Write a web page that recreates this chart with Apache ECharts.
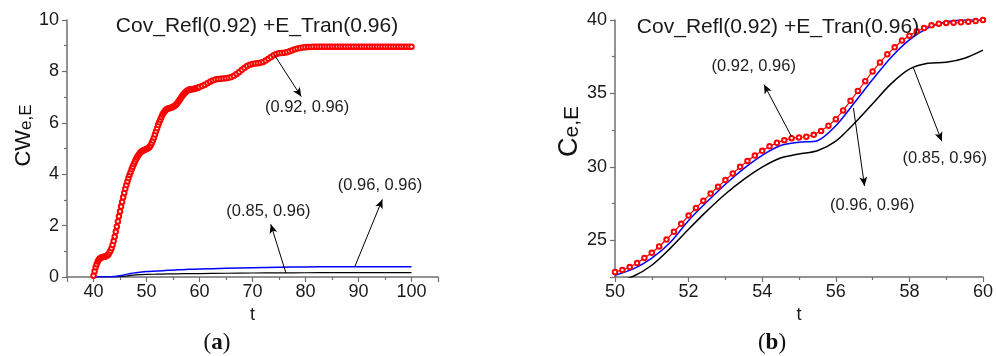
<!DOCTYPE html>
<html>
<head>
<meta charset="utf-8">
<script src="https://cdn.jsdelivr.net/npm/echarts@6/dist/echarts.min.js"></script>
<style>
  html, body { margin: 0; padding: 0; background: #ffffff; }
  #chart { width: 996px; height: 356px; }
</style>
</head>
<body>
<div id="chart"></div>
<script>
// ---- Panel (a): cumulative CW_e,E over t ----
const tRedA = [
  40.0, 40.2, 40.4, 40.6, 40.8, 41.0, 41.2, 41.4, 41.6, 41.8,
  42.0, 42.2, 42.4, 42.6, 42.8, 43.0, 43.2, 43.4, 43.6, 43.8,
  44.0, 44.2, 44.4, 44.6, 44.8, 45.0, 45.2, 45.4, 45.6, 45.8,
  46.0, 46.2, 46.4, 46.6, 46.8, 47.0, 47.2, 47.4, 47.6, 47.8,
  48.0, 48.2, 48.4, 48.6, 48.8, 49.0, 49.2, 49.4, 49.6, 49.8,
  50.0, 50.2, 50.4, 50.6, 50.8, 51.0, 51.2, 51.4, 51.6, 51.8,
  52.0, 52.2, 52.4, 52.6, 52.8, 53.0, 53.2, 53.4, 53.6, 53.8,
  54.0, 54.2, 54.4, 54.6, 54.8, 55.0, 55.2, 55.4, 55.6, 55.8,
  56.0, 56.2, 56.4, 56.6, 56.8, 57.0, 57.2, 57.4, 57.6, 57.8,
  58.0, 58.2, 58.4, 58.6, 58.8, 59.0, 59.2, 59.4, 59.6, 59.8,
  60.0,
  60.5, 61.0, 61.5, 62.0, 62.5, 63.0, 63.5, 64.0, 64.5, 65.0,
  65.5, 66.0, 66.5, 67.0, 67.5, 68.0, 68.5, 69.0, 69.5, 70.0,
  70.5, 71.0, 71.5, 72.0, 72.5, 73.0, 73.5, 74.0, 74.5, 75.0,
  75.5, 76.0, 76.5, 77.0, 77.5, 78.0, 78.5, 79.0, 79.5, 80.0,
  80.5, 81.0, 81.5, 82.0, 82.5, 83.0, 83.5, 84.0, 84.5, 85.0,
  85.5, 86.0, 86.5, 87.0, 87.5, 88.0, 88.5, 89.0, 89.5, 90.0,
  90.5, 91.0, 91.5, 92.0, 92.5, 93.0, 93.5, 94.0, 94.5, 95.0,
  95.5, 96.0, 96.5, 97.0, 97.5, 98.0, 98.5, 99.0, 99.5, 100.0
];
const cwRed = [
  0.05, 0.22, 0.38, 0.50, 0.60, 0.67, 0.72, 0.75, 0.77, 0.78,
  0.79, 0.80, 0.82, 0.84, 0.88, 0.94, 1.02, 1.12, 1.25, 1.40,
  1.57, 1.76, 1.96, 2.16, 2.36, 2.55, 2.74, 2.92, 3.10, 3.27,
  3.43, 3.58, 3.72, 3.85, 3.97, 4.08, 4.19, 4.29, 4.39, 4.48,
  4.57, 4.65, 4.72, 4.78, 4.83, 4.87, 4.90, 4.92, 4.94, 4.96,
  4.98, 5.00, 5.03, 5.07, 5.13, 5.21, 5.31, 5.42, 5.54, 5.67,
  5.79, 5.91, 6.02, 6.12, 6.22, 6.31, 6.38, 6.44, 6.49, 6.53,
  6.55, 6.57, 6.58, 6.59, 6.60, 6.62, 6.64, 6.67, 6.71, 6.76,
  6.82, 6.88, 6.94, 7.00, 7.06, 7.11, 7.16, 7.20, 7.24, 7.27,
  7.29, 7.30, 7.31, 7.31, 7.32, 7.32, 7.33, 7.34, 7.35, 7.37,
  7.39,
  7.43, 7.48, 7.54, 7.60, 7.65, 7.68, 7.70, 7.71, 7.72, 7.73,
  7.75, 7.78, 7.83, 7.90, 7.98, 8.06, 8.14, 8.21, 8.26, 8.29,
  8.31, 8.32, 8.34, 8.37, 8.42, 8.49, 8.56, 8.63, 8.68, 8.71,
  8.72, 8.73, 8.75, 8.78, 8.82, 8.86, 8.89, 8.91, 8.93, 8.94,
  8.95, 8.95, 8.96, 8.96, 8.96, 8.96, 8.96, 8.96, 8.96, 8.96,
  8.96, 8.96, 8.96, 8.96, 8.96, 8.96, 8.96, 8.96, 8.96, 8.96,
  8.96, 8.96, 8.96, 8.96, 8.96, 8.96, 8.96, 8.96, 8.96, 8.96,
  8.96, 8.96, 8.96, 8.96, 8.96, 8.96, 8.96, 8.96, 8.96, 8.96
];
const tLowA = [40, 42, 44, 45, 46, 47, 48, 50, 52, 54, 56, 58, 60, 65, 70, 75, 80, 85, 90, 95, 100];
const cwBlue = [0, 0.005, 0.02, 0.05, 0.09, 0.14, 0.17, 0.21, 0.23, 0.26, 0.28, 0.30, 0.31, 0.34, 0.36, 0.38, 0.39, 0.40, 0.40, 0.40, 0.40];
const cwBlack = [0, 0, 0.005, 0.01, 0.03, 0.06, 0.08, 0.10, 0.11, 0.12, 0.125, 0.13, 0.135, 0.145, 0.155, 0.16, 0.165, 0.17, 0.17, 0.17, 0.17];

// ---- Panel (b): C_e,E over 50 <= t <= 60 ----
const tRedB = [
  50.0, 50.2, 50.4, 50.6, 50.8, 51.0, 51.2, 51.4, 51.6, 51.8,
  52.0, 52.2, 52.4, 52.6, 52.8, 53.0, 53.2, 53.4, 53.6, 53.8,
  54.0, 54.2, 54.4, 54.6, 54.8, 55.0, 55.2, 55.4, 55.6, 55.8,
  56.0, 56.2, 56.4, 56.6, 56.8, 57.0, 57.2, 57.4, 57.6, 57.8,
  58.0, 58.2, 58.4, 58.6, 58.8, 59.0, 59.2, 59.4, 59.6, 59.8,
  60.0
];
const cRed = [
  22.84, 22.98, 23.18, 23.45, 23.80, 24.15, 24.58, 25.05, 25.58, 26.12,
  26.68, 27.20, 27.70, 28.18, 28.65, 29.10, 29.55, 30.00, 30.40, 30.77,
  31.09, 31.40, 31.64, 31.82, 31.95, 32.00, 32.05, 32.18, 32.45, 32.80,
  33.25, 33.84, 34.50, 35.17, 35.83, 36.50, 37.11, 37.66, 38.14, 38.60,
  38.93, 39.23, 39.45, 39.64, 39.75, 39.80, 39.82, 39.84, 39.88, 39.93,
  40.00
];
const tLineB = [50.0, 50.5, 51.0, 51.5, 52.0, 52.5, 53.0, 53.5, 54.0, 54.5, 55.0, 55.5, 56.0, 56.5, 57.0, 57.5, 58.0, 58.5, 59.0, 59.5, 60.0];
const cBlue = [22.62, 23.05, 23.78, 24.85, 26.35, 27.62, 28.82, 29.88, 30.78, 31.45, 31.68, 31.78, 32.80, 34.35, 35.95, 37.45, 38.65, 39.45, 39.88, 40.00, 40.00];
const cBlack = [22.15, 22.55, 23.30, 24.45, 25.75, 27.00, 28.15, 29.15, 29.98, 30.60, 30.88, 31.10, 31.75, 32.95, 34.30, 35.65, 36.65, 37.05, 37.12, 37.40, 37.95];

// axis ranges and tick steps
const xRangeA = [35, 105], xStepA = 10;
const yRangeA = [0, 10], yStepA = 2;
const xRangeB = [50, 60], xStepB = 2;
const yRangeB = [22.5, 40], yStepB = 5;

const panelTitle = 'Cov_Refl(0.92) +E_Tran(0.96)';

// arrow annotations in data space: [from t, from value, to t, to value, text t, text value, text]
const notesA = [
  [74.2, 8.62, 79.2, 7.02, 80.3, 6.58, '(0.92, 0.96)'],
  [76.3, 0.16, 73.45, 2.05, 73.0, 2.55, '(0.85, 0.96)'],
  [89.3, 0.40, 94.5, 3.02, 94.05, 3.55, '(0.96, 0.96)']
];
const notesB = [
  [54.8, 32.05, 54.05, 35.6, 53.77, 36.86, '(0.92, 0.96)'],
  [56.48, 34.0, 56.78, 28.7, 56.99, 27.4, '(0.96, 0.96)'],
  [58.1, 36.8, 58.88, 31.75, 58.96, 30.6, '(0.85, 0.96)']
];

const FONT = 'Liberation Sans, Arial, sans-serif';
const SERIF = 'Liberation Serif, serif';
const axisGrey = '#6f6f6f';
const zip = (xs, ys) => xs.map((x, i) => [x, ys[i]]);

function axisBase() {
  return {
    type: 'value',
    axisLine: { show: true, onZero: false, lineStyle: { color: axisGrey, width: 1.5 } },
    axisTick: { show: true, inside: false, length: 5, lineStyle: { color: axisGrey, width: 1.2 } },
    minorTick: { show: true, splitNumber: 2, length: 3, lineStyle: { color: axisGrey, width: 1.2 } },
    splitLine: { show: false },
    minorSplitLine: { show: false },
    axisLabel: { color: '#1a1a1a', fontFamily: FONT, fontSize: 18 }
  };
}

function arrows(notes) {
  return {
    silent: true,
    animation: false,
    symbol: ['none', 'arrow'],
    symbolSize: [6, 9],
    lineStyle: { color: '#000', width: 1, type: 'solid' },
    label: { show: false },
    emphasis: { disabled: true },
    data: notes.map(n => [{ coord: [n[0], n[1]] }, { coord: [n[2], n[3]] }])
  };
}
function texts(notes) {
  return {
    silent: true,
    animation: false,
    symbol: 'circle',
    symbolSize: 1,
    itemStyle: { color: 'rgba(0,0,0,0)' },
    label: {
      show: true, position: 'inside', color: '#1e1e1e',
      fontFamily: FONT, fontSize: 16.5,
      formatter: p => p.name
    },
    data: notes.map(n => ({ name: n[6], coord: [n[4], n[5]] }))
  };
}

const xA = Object.assign(axisBase(), {
  gridIndex: 0, min: xRangeA[0], max: xRangeA[1], minInterval: xStepA, maxInterval: xStepA,
  name: 't', nameLocation: 'middle', nameGap: 19,
  nameTextStyle: { color: '#1a1a1a', fontFamily: FONT, fontSize: 18 }
});
xA.axisLabel = Object.assign(xA.axisLabel, { margin: 6, showMinLabel: false, showMaxLabel: false });

const xB = Object.assign(axisBase(), {
  gridIndex: 1, min: xRangeB[0], max: xRangeB[1], interval: xStepB,
  name: 't', nameLocation: 'middle', nameGap: 15,
  nameTextStyle: { color: '#1a1a1a', fontFamily: FONT, fontSize: 18 }
});
xB.axisLabel = Object.assign(xB.axisLabel, { margin: 6 });

const yA = Object.assign(axisBase(), {
  gridIndex: 0, min: yRangeA[0], max: yRangeA[1], interval: yStepA,
  name: '{m|CW}{s|e,E}', nameLocation: 'middle', nameGap: 32,
  nameTextStyle: {
    color: '#111', fontFamily: FONT, padding: [0, 0, 0, 26],
    rich: {
      m: { fontSize: 22, fontFamily: FONT, color: '#111' },
      s: { fontSize: 17, fontFamily: FONT, color: '#111', padding: [5, 0, 0, 0] }
    }
  }
});
yA.axisLabel = Object.assign(yA.axisLabel, { margin: 8 });

const yB = Object.assign(axisBase(), {
  gridIndex: 1, min: yRangeB[0], max: yRangeB[1], minInterval: yStepB, maxInterval: yStepB,
  name: '{m|C}{s|e,E}', nameLocation: 'middle', nameGap: 29,
  nameTextStyle: {
    color: '#111', fontFamily: FONT, padding: [0, 0, 0, 34],
    rich: {
      m: { fontSize: 27, fontFamily: FONT, color: '#111' },
      s: { fontSize: 21, fontFamily: FONT, color: '#111', padding: [6, 0, 0, 0] }
    }
  }
});
yB.axisLabel = Object.assign(yB.axisLabel, { margin: 8, showMinLabel: false });

const option = {
  animation: false,
  backgroundColor: '#ffffff',
  grid: [
    { left: 67, top: 20, width: 371, height: 257 },
    { left: 615, top: 20, width: 372, height: 257 }
  ],
  xAxis: [xA, xB],
  yAxis: [yA, yB],
  series: [
    {
      type: 'line', xAxisIndex: 0, yAxisIndex: 0,
      data: zip(tLowA, cwBlack), showSymbol: false, smooth: 0.3,
      lineStyle: { color: '#000000', width: 1.2 }, z: 2,
      markLine: arrows([notesA[1]]), markPoint: texts([notesA[1]])
    },
    {
      type: 'line', xAxisIndex: 0, yAxisIndex: 0,
      data: zip(tLowA, cwBlue), showSymbol: false, smooth: 0.3,
      lineStyle: { color: '#0000ff', width: 1.5 }, z: 3,
      markLine: arrows([notesA[2]]), markPoint: texts([notesA[2]])
    },
    {
      type: 'line', xAxisIndex: 0, yAxisIndex: 0,
      data: zip(tRedA, cwRed), symbol: 'emptyCircle', symbolSize: 4.5, showAllSymbol: true,
      itemStyle: { color: '#ff0000', borderColor: '#ff0000', borderWidth: 1 },
      lineStyle: { color: '#ff0000', width: 1 }, z: 4,
      markLine: arrows([notesA[0]]), markPoint: texts([notesA[0]])
    },
    {
      type: 'line', xAxisIndex: 1, yAxisIndex: 1,
      data: zip(tLineB, cBlack), showSymbol: false, smooth: 0.3,
      lineStyle: { color: '#000000', width: 1.5 }, z: 2,
      markLine: arrows([notesB[2]]), markPoint: texts([notesB[2]])
    },
    {
      type: 'line', xAxisIndex: 1, yAxisIndex: 1,
      data: zip(tLineB, cBlue), showSymbol: false, smooth: 0.3,
      lineStyle: { color: '#0000ff', width: 1.5 }, z: 3,
      markLine: arrows([notesB[1]]), markPoint: texts([notesB[1]])
    },
    {
      type: 'line', xAxisIndex: 1, yAxisIndex: 1,
      data: zip(tRedB, cRed), symbol: 'emptyCircle', symbolSize: 4.5, showAllSymbol: true,
      itemStyle: { color: '#ff0000', borderColor: '#ff0000', borderWidth: 1 },
      lineStyle: { color: '#ff0000', width: 1.2 }, z: 4,
      markLine: arrows([notesB[0]]), markPoint: texts([notesB[0]])
    }
  ],
  graphic: [
    { type: 'text', x: 257, y: 26, z: 10,
      style: { text: panelTitle, fontFamily: FONT, fontSize: 21, fill: '#1a1a1a', align: 'center', verticalAlign: 'middle' } },
    { type: 'text', x: 778, y: 27, z: 10,
      style: { text: panelTitle, fontFamily: FONT, fontSize: 21, fill: '#1a1a1a', align: 'center', verticalAlign: 'middle' } },
    { type: 'text', x: 217, y: 343,
      style: { text: '{n|(}{b|a}{n|)}', align: 'center', verticalAlign: 'middle',
        rich: { n: { fontFamily: SERIF, fontSize: 23, fill: '#111' },
                b: { fontFamily: SERIF, fontSize: 23, fontWeight: 'bold', fill: '#111' } } } },
    { type: 'text', x: 772, y: 343,
      style: { text: '{n|(}{b|b}{n|)}', align: 'center', verticalAlign: 'middle',
        rich: { n: { fontFamily: SERIF, fontSize: 23, fill: '#111' },
                b: { fontFamily: SERIF, fontSize: 23, fontWeight: 'bold', fill: '#111' } } } }
  ]
};

const chart = echarts.init(document.getElementById('chart'), null, { renderer: 'canvas' });
chart.setOption(option);
</script>
</body>
</html>
